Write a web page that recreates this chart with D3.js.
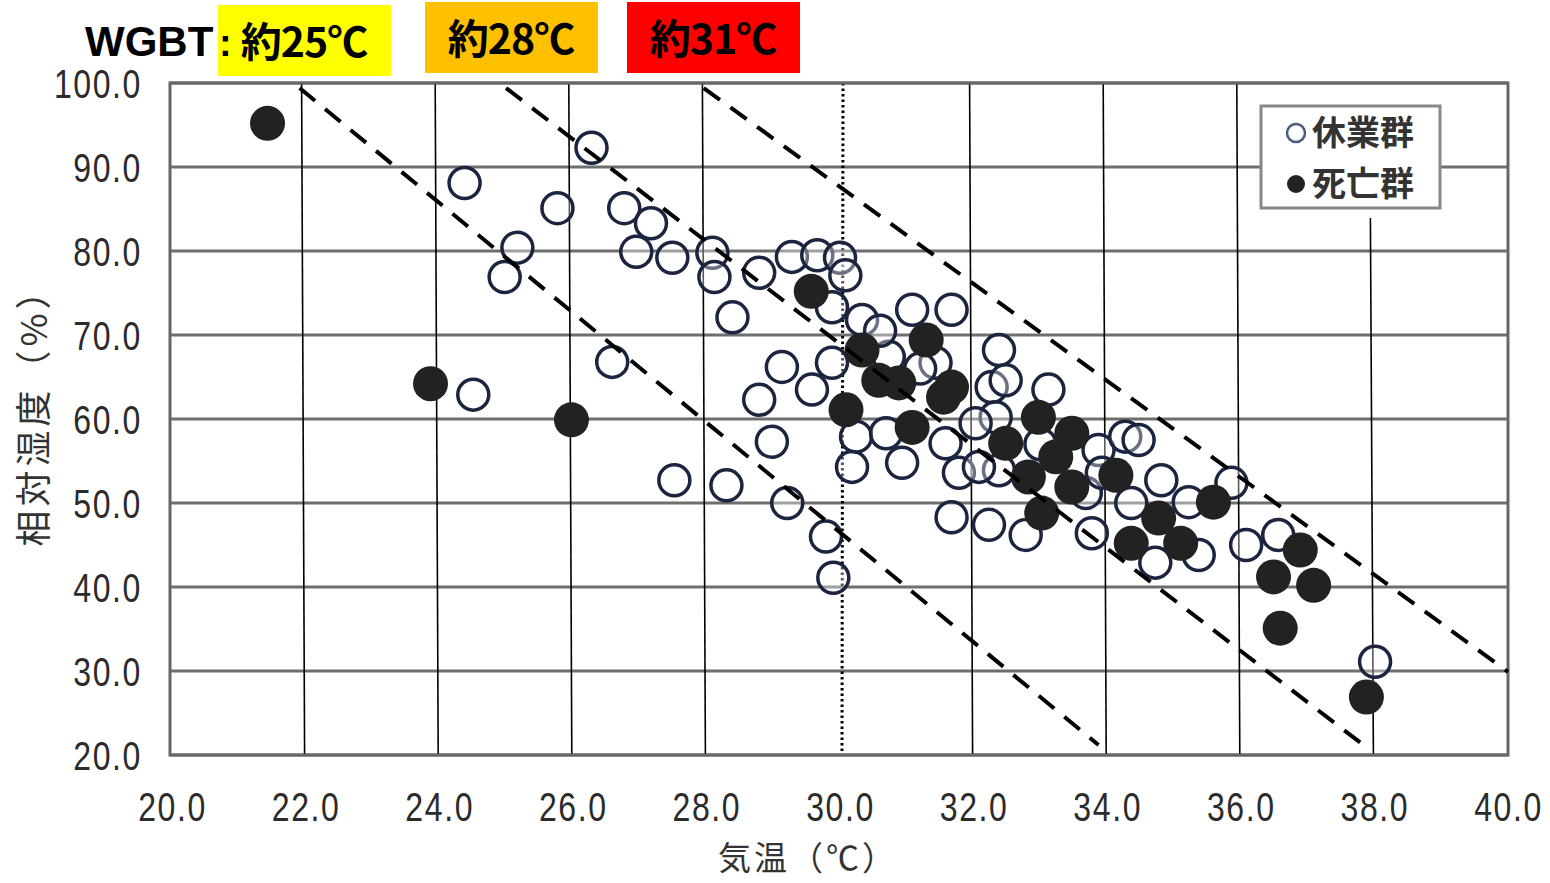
<!DOCTYPE html>
<html>
<head>
<meta charset="utf-8">
<script src="https://cdn.jsdelivr.net/npm/d3@7"></script>
<style>
  body { margin: 0; background: #fff; }
  .tick text { font-family: "Liberation Sans", Arial, sans-serif; font-size: 40px; fill: #2b2b2b; letter-spacing: 2px; }
  .cjk { font-family: "Noto Sans CJK JP", sans-serif; }
</style>
</head>
<body>
<script>
var w = 1550;
var h = 883;

// WGBT bands shown above the chart
var wgbtLabels = ['約25℃', '約28℃', '約31℃'];
var wgbtColors = ['#ffff00', '#ffc000', '#ff0000'];

var xTicks = [20, 22, 24, 26, 28, 30, 32, 34, 36, 38, 40];
var yTicks = [20, 30, 40, 50, 60, 70, 80, 90, 100];

// dashed WGBT isolines: [x0, y0, x1, y1] in °C / %
var isolines = [
  [21.91, 99.4, 33.87, 21.2],
  [25.0, 99.4, 37.9, 20.8],
  [27.96, 99.4, 40.0, 29.9]
];

// 休業群 (open circles): [気温, 相対湿度]
var kyugyo = [
  [24.38, 88.1], [26.28, 92.3], [25.77, 85.1], [25.17, 80.4], [24.98, 76.9],
  [26.77, 85.1], [27.17, 83.3], [26.95, 79.9], [27.49, 79.2], [28.09, 79.8],
  [28.12, 76.9], [28.79, 77.4], [28.39, 72.1], [29.28, 79.3], [29.66, 79.5],
  [30.0, 79.2], [30.08, 77.1], [29.88, 73.3], [30.33, 71.8], [31.08, 73.0],
  [31.67, 73.0], [32.38, 68.2], [26.59, 66.8], [24.51, 62.9], [27.52, 52.7],
  [28.30, 52.1], [28.79, 62.3], [29.13, 66.2], [28.98, 57.3], [29.21, 50.0],
  [29.79, 46.0], [29.9, 41.1], [29.88, 66.7], [30.73, 67.4], [29.58, 63.5],
  [31.43, 66.7], [30.24, 57.9], [30.69, 58.3], [30.18, 54.3], [30.93, 54.8],
  [31.58, 57.1], [31.78, 53.6], [32.27, 63.8], [32.33, 60.2], [32.38, 53.9],
  [32.48, 64.6], [33.12, 63.5], [32.03, 59.5], [32.08, 54.3], [31.67, 48.3],
  [32.23, 47.4], [32.78, 46.2], [33.68, 51.2], [33.87, 56.3], [34.27, 57.9],
  [34.47, 57.5], [33.77, 46.4], [33.92, 53.6], [34.36, 50.0], [34.81, 52.7],
  [35.22, 50.1], [35.86, 52.4], [34.72, 42.9], [35.37, 43.8], [36.08, 45.0],
  [36.56, 46.2], [38.01, 31.1], [30.6, 70.5], [31.2, 66.0], [33.0, 57.0]
];

// 死亡群 (filled circles): [気温, 相対湿度]
var shibou = [
  [21.43, 95.2], [23.87, 64.2], [25.98, 59.9], [29.57, 75.2], [30.33, 68.2],
  [30.58, 64.6], [30.88, 64.3], [31.29, 69.4], [31.67, 63.8], [31.55, 62.6],
  [30.09, 61.1], [31.08, 59.0], [32.97, 60.2], [33.47, 58.3], [32.48, 57.1],
  [32.82, 53.1], [33.23, 55.5], [33.47, 51.9], [33.02, 48.8], [34.13, 53.3],
  [34.36, 45.2], [34.77, 48.2], [35.10, 45.2], [35.59, 50.1], [36.89, 44.4],
  [36.49, 41.2], [37.09, 40.2], [36.59, 35.1], [37.88, 26.9]
];

var svg = d3.select('body')
            .append('svg')
            .attr('width', w)
            .attr('height', h);

var x = d3.scaleLinear().domain([20, 40]).range([172, 1508]);
var y = d3.scaleLinear().domain([20, 100]).range([755, 83]);

// header
svg.append('text')
   .attr('x', 85).attr('y', 56)
   .attr('font-family', 'Liberation Sans, Arial, sans-serif')
   .attr('font-weight', 'bold')
   .attr('font-size', 42)
   .text('WGBT');

var boxX = [218, 425, 627];
svg.selectAll('rect.wgbt')
   .data(wgbtLabels)
   .enter()
   .append('rect')
   .attr('class', 'wgbt')
   .attr('x', function(d, i) { return boxX[i]; })
   .attr('y', function(d, i) { return i == 0 ? 5 : 2; })
   .attr('width', 173)
   .attr('height', 71)
   .attr('fill', function(d, i) { return wgbtColors[i]; });

svg.append('text')
   .attr('x', 219).attr('y', 56)
   .attr('font-family', 'Liberation Sans, Arial, sans-serif')
   .attr('font-weight', 'bold')
   .attr('font-size', 38)
   .text(':');

svg.selectAll('text.wgbt')
   .data(wgbtLabels)
   .enter()
   .append('text')
   .attr('class', 'wgbt cjk')
   .attr('x', function(d, i) { return boxX[i] + 86; })
   .attr('y', function(d, i) { return i == 0 ? 57 : 54; })
   .attr('text-anchor', 'middle')
   .attr('font-weight', 'bold')
   .attr('font-size', 41)
   .attr('letter-spacing', -1)
   .text(function(d) { return d; });

// horizontal grid
svg.append('g')
   .selectAll('line')
   .data(yTicks)
   .enter()
   .append('line')
   .attr('x1', 170).attr('x2', 1508)
   .attr('y1', function(d) { return y(d); })
   .attr('y2', function(d) { return y(d); })
   .attr('stroke', '#6e6e6e')
   .attr('stroke-width', 3);

// vertical lines
svg.append('g')
   .selectAll('line')
   .data(xTicks.slice(1, -1))
   .enter()
   .append('line')
   .attr('x1', function(d) { return d == 30 ? x(d) + 3 : x(d) - 4; })
   .attr('x2', function(d) { return d == 30 ? x(d) + 2 : x(d) - 1; })
   .attr('y1', function(d) { return d == 38 ? 218 : y(100); })
   .attr('y2', y(20))
   .attr('stroke', '#000')
   .attr('stroke-width', function(d) { return d == 30 ? 3 : 1.6; })
   .attr('stroke-dasharray', function(d) { return d == 30 ? '2.5,3' : null; });

// frame
svg.append('rect')
   .attr('x', 170).attr('y', y(100))
   .attr('width', 1338).attr('height', y(20) - y(100))
   .attr('fill', 'none')
   .attr('stroke', '#666')
   .attr('stroke-width', 3);

// points
svg.append('g')
   .selectAll('circle')
   .data(kyugyo)
   .enter()
   .append('circle')
   .attr('cx', function(d) { return x(d[0]); })
   .attr('cy', function(d) { return y(d[1]); })
   .attr('r', 15.5)
   .attr('fill', '#fff')
   .attr('fill-opacity', 0.35)
   .attr('stroke', '#1c2540')
   .attr('stroke-width', 3.5);

svg.append('g')
   .selectAll('circle')
   .data(shibou)
   .enter()
   .append('circle')
   .attr('cx', function(d) { return x(d[0]); })
   .attr('cy', function(d) { return y(d[1]); })
   .attr('r', 17.5)
   .attr('fill', '#222');

// dashed isolines
svg.append('g')
   .selectAll('line')
   .data(isolines)
   .enter()
   .append('line')
   .attr('x1', function(d) { return x(d[0]); })
   .attr('y1', function(d) { return y(d[1]); })
   .attr('x2', function(d) { return x(d[2]); })
   .attr('y2', function(d) { return y(d[3]); })
   .attr('stroke', '#000')
   .attr('stroke-width', 4)
   .attr('stroke-dasharray', '20,13');

// axes
var xAxis = d3.axisBottom(x).tickValues(xTicks).tickFormat(d3.format('.1f')).tickSize(0).tickPadding(0);
var yAxis = d3.axisLeft(y).tickValues(yTicks).tickFormat(d3.format('.1f')).tickSize(0).tickPadding(0);

var gx = svg.append('g').attr('transform', 'translate(0,792)').call(xAxis);
gx.select('.domain').remove();
gx.selectAll('text').attr('dy', '0.72em').attr('transform', 'scale(0.8,1)');

var gy = svg.append('g').attr('transform', 'translate(142,0)').call(yAxis);
gy.select('.domain').remove();
gy.selectAll('text').attr('dy', '0.36em').attr('transform', 'scale(0.8,1)');

// axis titles
svg.append('text')
   .attr('class', 'cjk')
   .attr('transform', 'translate(47,408) rotate(-90)')
   .attr('text-anchor', 'middle')
   .attr('font-size', 36)
   .attr('fill', '#333')
   .attr('letter-spacing', 4)
   .text('相対湿度（%）');

svg.append('text')
   .attr('class', 'cjk')
   .attr('x', 808).attr('y', 870)
   .attr('text-anchor', 'middle')
   .attr('font-size', 33)
   .attr('fill', '#333')
   .attr('letter-spacing', 3)
   .text('気温（℃）');

// legend
var legend = svg.append('g');
legend.append('rect')
   .attr('x', 1261).attr('y', 106)
   .attr('width', 179).attr('height', 102)
   .attr('fill', '#fff')
   .attr('stroke', '#888')
   .attr('stroke-width', 3);

var legendItems = ['休業群', '死亡群'];
legend.selectAll('circle')
   .data(legendItems)
   .enter()
   .append('circle')
   .attr('cx', 1296)
   .attr('cy', function(d, i) { return 133 + i * 51; })
   .attr('r', 9)
   .attr('fill', function(d, i) { return i == 0 ? '#fff' : '#222'; })
   .attr('stroke', function(d, i) { return i == 0 ? '#4a5a80' : 'none'; })
   .attr('stroke-width', 2.5);

legend.selectAll('text')
   .data(legendItems)
   .enter()
   .append('text')
   .attr('class', 'cjk')
   .attr('x', 1312)
   .attr('y', function(d, i) { return 145 + i * 51; })
   .attr('font-size', 34)
   .attr('font-weight', 'bold')
   .attr('fill', '#333')
   .text(function(d) { return d; });
</script>
</body>
</html>
